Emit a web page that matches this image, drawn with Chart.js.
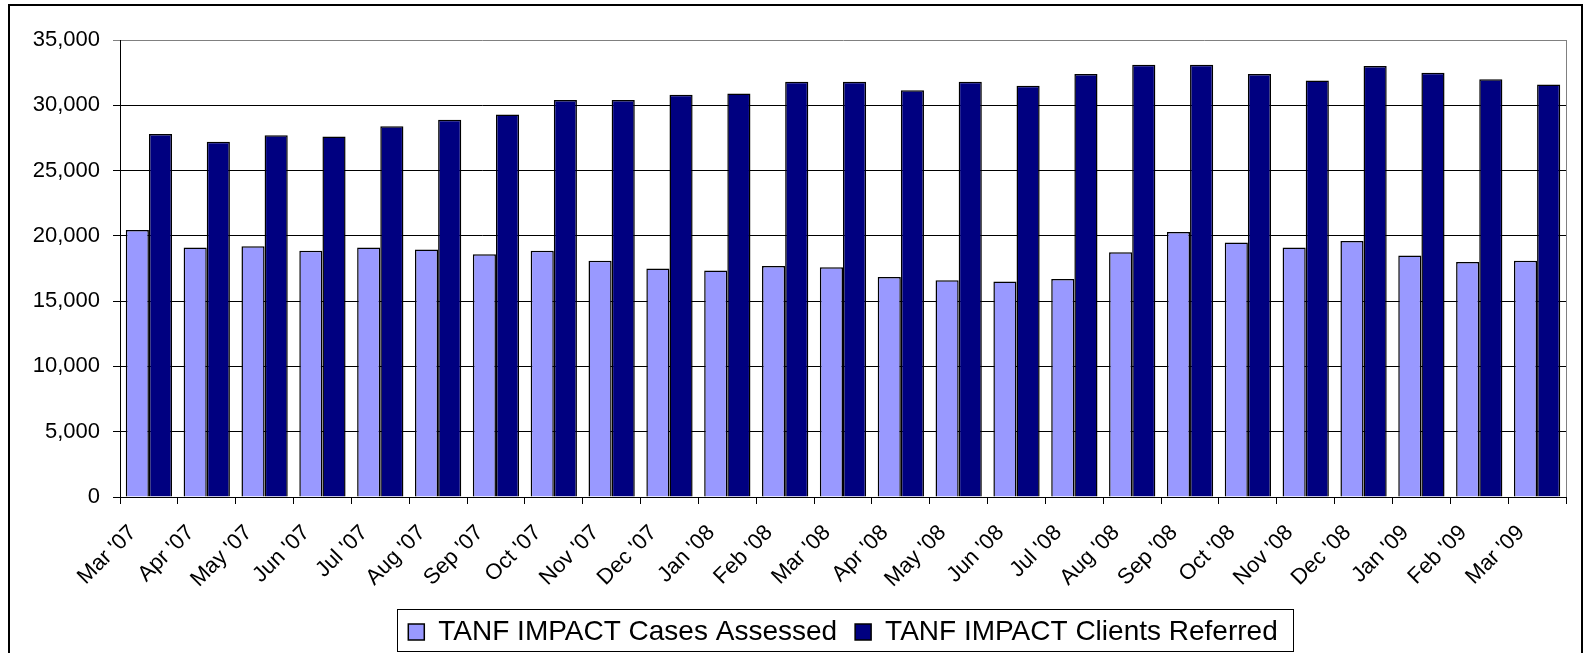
<!DOCTYPE html>
<html>
<head>
<meta charset="utf-8">
<title>TANF IMPACT Cases Assessed and Clients Referred</title>
<script src="https://cdn.jsdelivr.net/npm/chart.js@4/dist/chart.umd.min.js"></script>
<style>
  html, body { margin: 0; padding: 0; background: #ffffff; }
  #wrap { position: relative; width: 1584px; height: 653px; }
</style>
</head>
<body>
<div id="wrap"><canvas id="chart"></canvas></div>
<script>
// Monthly categories, March 2007 through March 2009
const months = ["Mar '07", "Apr '07", "May '07", "Jun '07", "Jul '07", "Aug '07", "Sep '07",
  "Oct '07", "Nov '07", "Dec '07", "Jan '08", "Feb '08", "Mar '08", "Apr '08", "May '08",
  "Jun '08", "Jul '08", "Aug '08", "Sep '08", "Oct '08", "Nov '08", "Dec '08", "Jan '09",
  "Feb '09", "Mar '09"];

const casesAssessed = [20450, 19100, 19200, 18850, 19100, 18950, 18600, 18850, 18100, 17500,
  17350, 17700, 17600, 16850, 16600, 16500, 16700, 18750, 20300, 19500, 19100, 19600, 18500,
  18000, 18100];

const clientsReferred = [27800, 27200, 27700, 27600, 28400, 28900, 29300, 30400, 30400, 30800,
  30900, 31800, 31800, 31150, 31800, 31500, 32400, 33100, 33100, 32400, 31900, 33000, 32500,
  32000, 31600];

const seriesNames = ["TANF IMPACT Cases Assessed", "TANF IMPACT Clients Referred"];

const FONT = "'Liberation Sans', Arial, Helvetica, sans-serif";

// Centre the legend under the plot area rather than the whole canvas
const legendCentre = {
  id: 'legendCentre',
  afterLayout(chart) {
    const lg = chart.legend;
    const area = chart.chartArea;
    if (!lg) return;
    const shift = (area.left + area.right) / 2 - (lg.left + lg.right) / 2;
    lg.left += shift;
    lg.right += shift;
  }
};

// Frames: outer chart border, grey right edge of the plot, box round the legend
const framePlugin = {
  id: 'frames',
  afterDraw(chart) {
    const ctx = chart.ctx;
    const area = chart.chartArea;
    ctx.save();
    // outer border
    ctx.strokeStyle = '#000000';
    ctx.lineWidth = 2;
    ctx.strokeRect(9, 5, 1573, 660);
    // right edge of plot area
    ctx.strokeStyle = '#808080';
    ctx.lineWidth = 1;
    ctx.beginPath();
    ctx.moveTo(Math.round(area.right) + 0.5, area.top);
    ctx.lineTo(Math.round(area.right) + 0.5, area.bottom);
    ctx.stroke();
    // legend frame
    const lg = chart.legend;
    if (lg && lg.lineWidths) {
      const pad = lg.options.labels.padding;
      const itemsW = lg.lineWidths[0] - pad;
      const cx = (lg.left + lg.right) / 2;
      const fs = lg.options.labels.font.size;
      const cy = lg.top + pad + fs / 2;
      const x0 = Math.round(cx - itemsW / 2 - 11) + 0.5;
      const x1 = Math.round(cx + itemsW / 2 + 15) + 0.5;
      const y0 = Math.floor(cy - 23) + 0.5;
      const y1 = Math.floor(cy + 19) + 0.5;
      ctx.strokeStyle = '#000000';
      ctx.lineWidth = 1;
      ctx.strokeRect(x0, y0, x1 - x0, y1 - y0);
    }
    ctx.restore();
  }
};

new Chart(document.getElementById('chart'), {
  type: 'bar',
  data: {
    labels: months,
    datasets: [
      {
        label: seriesNames[0],
        data: casesAssessed,
        backgroundColor: '#9999FF',
        borderColor: '#000000',
        borderWidth: 1.5
      },
      {
        label: seriesNames[1],
        data: clientsReferred,
        backgroundColor: '#000080',
        borderColor: '#000000',
        borderWidth: 1.5
      }
    ]
  },
  options: {
    responsive: true,
    maintainAspectRatio: false,
    animation: false,
    devicePixelRatio: 1,
    layout: { padding: { top: 40, left: 0, right: 18, bottom: -3 } },
    datasets: {
      bar: { categoryPercentage: 0.8, barPercentage: 1.0 }
    },
    scales: {
      x: {
        afterFit(scale) { scale.height = 103; },
        grid: {
          offset: true,
          drawOnChartArea: false,
          drawTicks: true,
          tickLength: 7,
          color: '#000000'
        },
        border: { display: true, color: '#000000', width: 1 },
        ticks: {
          autoSkip: false,
          minRotation: 45,
          maxRotation: 45,
          padding: 16,
          labelOffset: -16,
          color: '#000000',
          font: { family: FONT, size: 22 }
        }
      },
      y: {
        min: 0,
        max: 35000,
        afterFit(scale) { scale.width = 120; },
        grid: {
          drawTicks: true,
          tickLength: 7,
          color: (c) => (c.tick && c.tick.value === 35000) ? '#808080' : '#000000',
          lineWidth: 1
        },
        border: { display: true, color: '#000000', width: 1 },
        ticks: {
          stepSize: 5000,
          padding: 13,
          color: '#000000',
          font: { family: FONT, size: 22 },
          callback: (v) => Number(v).toLocaleString('en-US')
        }
      }
    },
    plugins: {
      tooltip: { enabled: false },
      title: { display: false },
      legend: {
        display: true,
        position: 'bottom',
        align: 'center',
        labels: {
          boxWidth: 16,
          boxHeight: 16,
          padding: 18,
          color: '#000000',
          font: { family: FONT, size: 28 }
        }
      }
    }
  },
  plugins: [legendCentre, framePlugin]
});
</script>
</body>
</html>
